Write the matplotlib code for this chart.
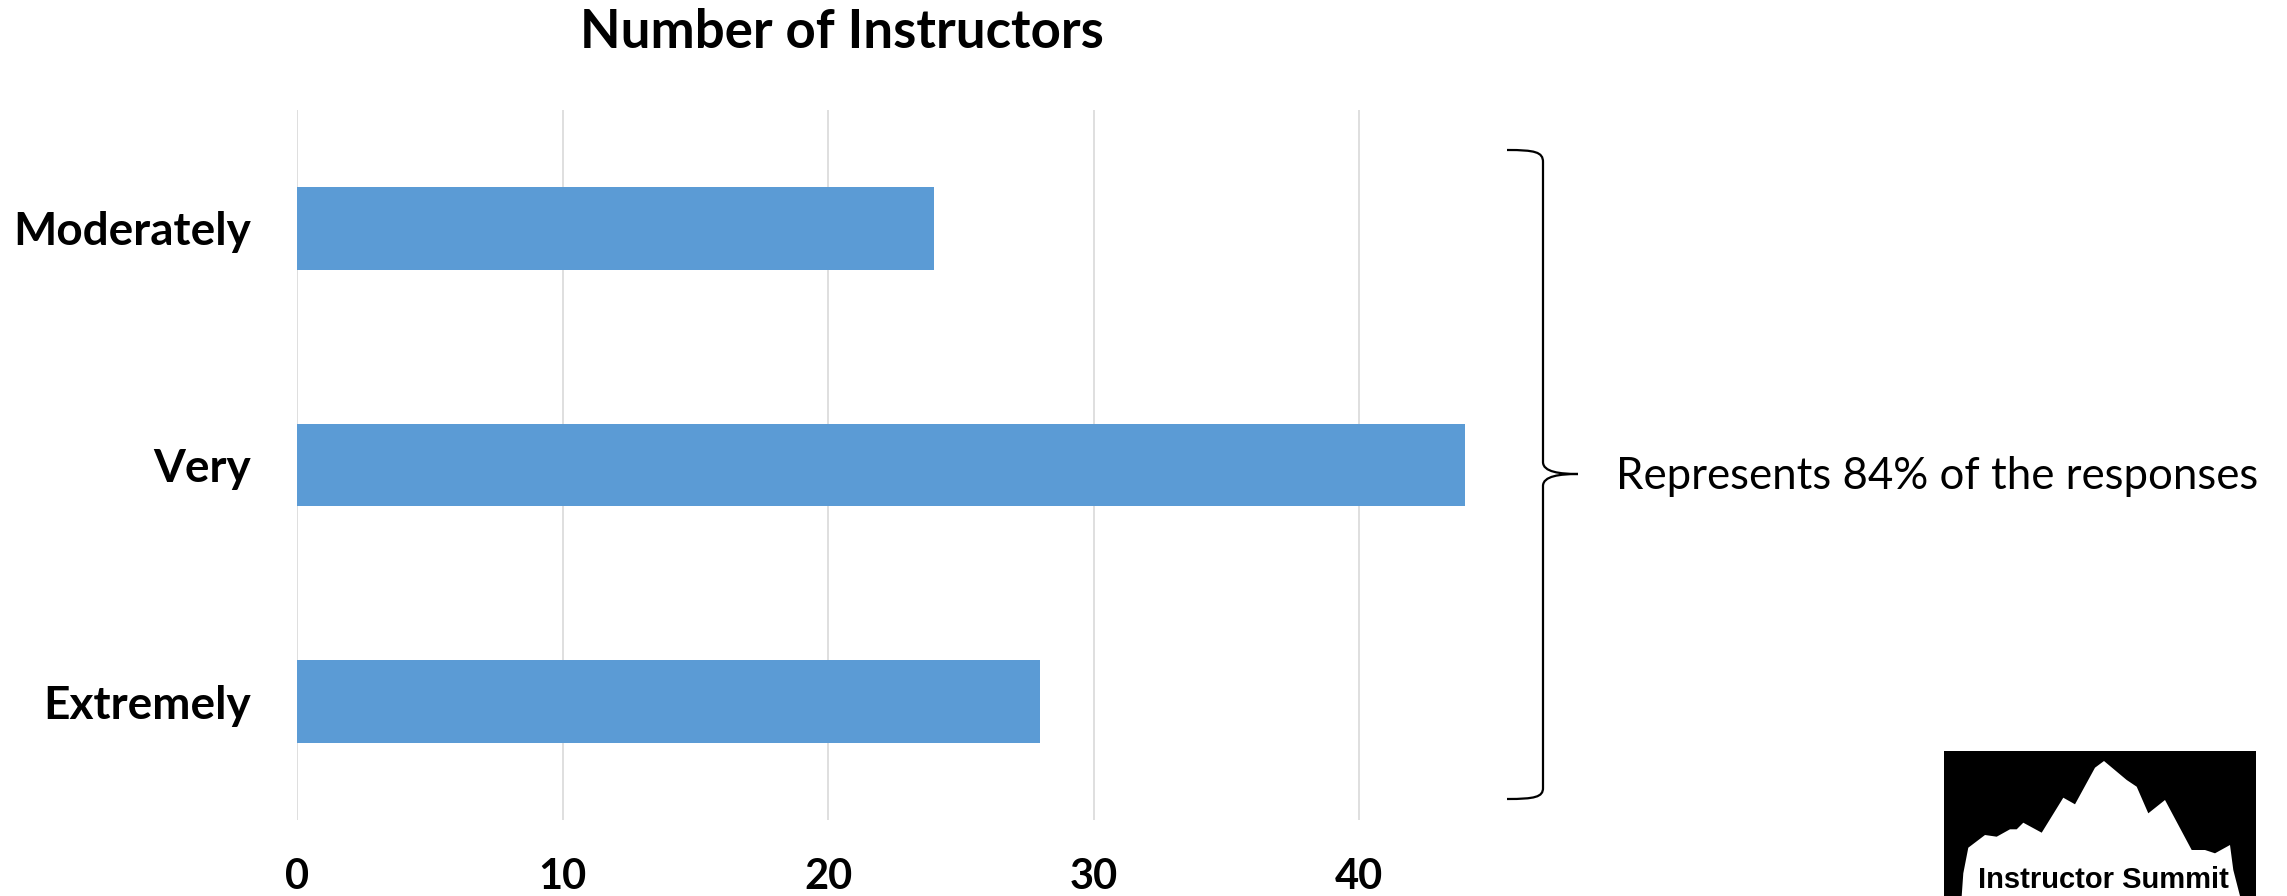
import matplotlib
matplotlib.use("Agg")
import matplotlib.pyplot as plt
from matplotlib.path import Path
from matplotlib.patches import PathPatch, Polygon, Rectangle

# data
categories = ["Extremely", "Very", "Moderately"]
instructors = [28, 44, 24]
x_ticks = [0, 10, 20, 30, 40]
title = "Number of Instructors"
note = "Represents 84% of the responses"

BAR_COLOR = "#5B9BD5"
GRID_COLOR = "#D9D9D9"
W, H = 2287, 896


def px(x, y):
    # pixel (from top-left) -> figure fraction
    return (x / W, 1 - y / H)


fig = plt.figure(figsize=(W / 100, H / 100), dpi=100)
ax = fig.add_axes([297 / W, 1 - 820 / H, (1359 - 297) / W * 1.1, (820 - 110) / H])

pos = list(range(len(categories)))
ax.barh(pos, instructors, height=0.35, color=BAR_COLOR, zorder=2)
ax.set_xlim(0, 44)
ax.set_ylim(-0.5, 2.5)
ax.set_xticks(x_ticks)
ax.set_yticks(pos)
ax.set_yticklabels(categories)
ax.grid(axis="x", color=GRID_COLOR, linewidth=1.2, zorder=0)
for s in ax.spines.values():
    s.set_visible(False)
ax.tick_params(length=0)
ax.tick_params(axis="x", pad=27)
ax.tick_params(axis="y", pad=33)
for lab in ax.get_xticklabels():
    lab.set_fontfamily("Lato")
    lab.set_fontweight("bold")
    lab.set_fontsize(30)
for lab in ax.get_yticklabels():
    lab.set_fontfamily("Lato")
    lab.set_fontweight("bold")
    lab.set_fontsize(33)

fig.text(*px(842, 33), title, family="Lato", weight="bold", fontsize=38,
         ha="center", va="center")

# brace
verts = [px(1507, 150), px(1535, 150), px(1543, 152), px(1543, 162),
         px(1543, 462),
         px(1543, 472), px(1560, 474), px(1578, 474),
         px(1560, 474), px(1543, 476), px(1543, 486),
         px(1543, 788),
         px(1543, 797), px(1535, 799), px(1507, 799)]
codes = [Path.MOVETO, Path.CURVE4, Path.CURVE4, Path.CURVE4,
         Path.LINETO,
         Path.CURVE4, Path.CURVE4, Path.CURVE4,
         Path.CURVE4, Path.CURVE4, Path.CURVE4,
         Path.LINETO,
         Path.CURVE4, Path.CURVE4, Path.CURVE4]
fig.patches.append(PathPatch(Path(verts, codes), transform=fig.transFigure,
                             facecolor="none", edgecolor="black", linewidth=1.6))

fig.text(*px(1616, 476), note, family="Lato", fontsize=31.5, ha="left", va="center")

# logo
fig.patches.append(Rectangle(px(1944, 896), (2256 - 1944) / W, (896 - 751) / H,
                             transform=fig.transFigure, facecolor="black", edgecolor="none"))
ridge = [(1961.7, 896), (1963.3, 873.3), (1968.3, 847.7), (1985, 835), (1996.7, 836.7),
         (2010, 829.3), (2016.7, 829.3), (2023.3, 822.7), (2041.7, 832.7),
         (2063.3, 797.7), (2075, 804.3), (2095, 767.7), (2104, 761),
         (2126.7, 780), (2136.7, 786.7), (2148.3, 813.3), (2165, 800),
         (2191.7, 850), (2205, 850), (2215, 853.3), (2230, 845),
         (2233.3, 870), (2240, 896)]
fig.patches.append(Polygon([px(x, y) for x, y in ridge], closed=True,
                           transform=fig.transFigure, facecolor="white", edgecolor="none"))
fig.text(*px(2103, 880), "Instructor Summit", family="Liberation Sans", weight="bold",
         fontsize=21, ha="center", va="center")

fig.savefig("out.png", dpi=100)
